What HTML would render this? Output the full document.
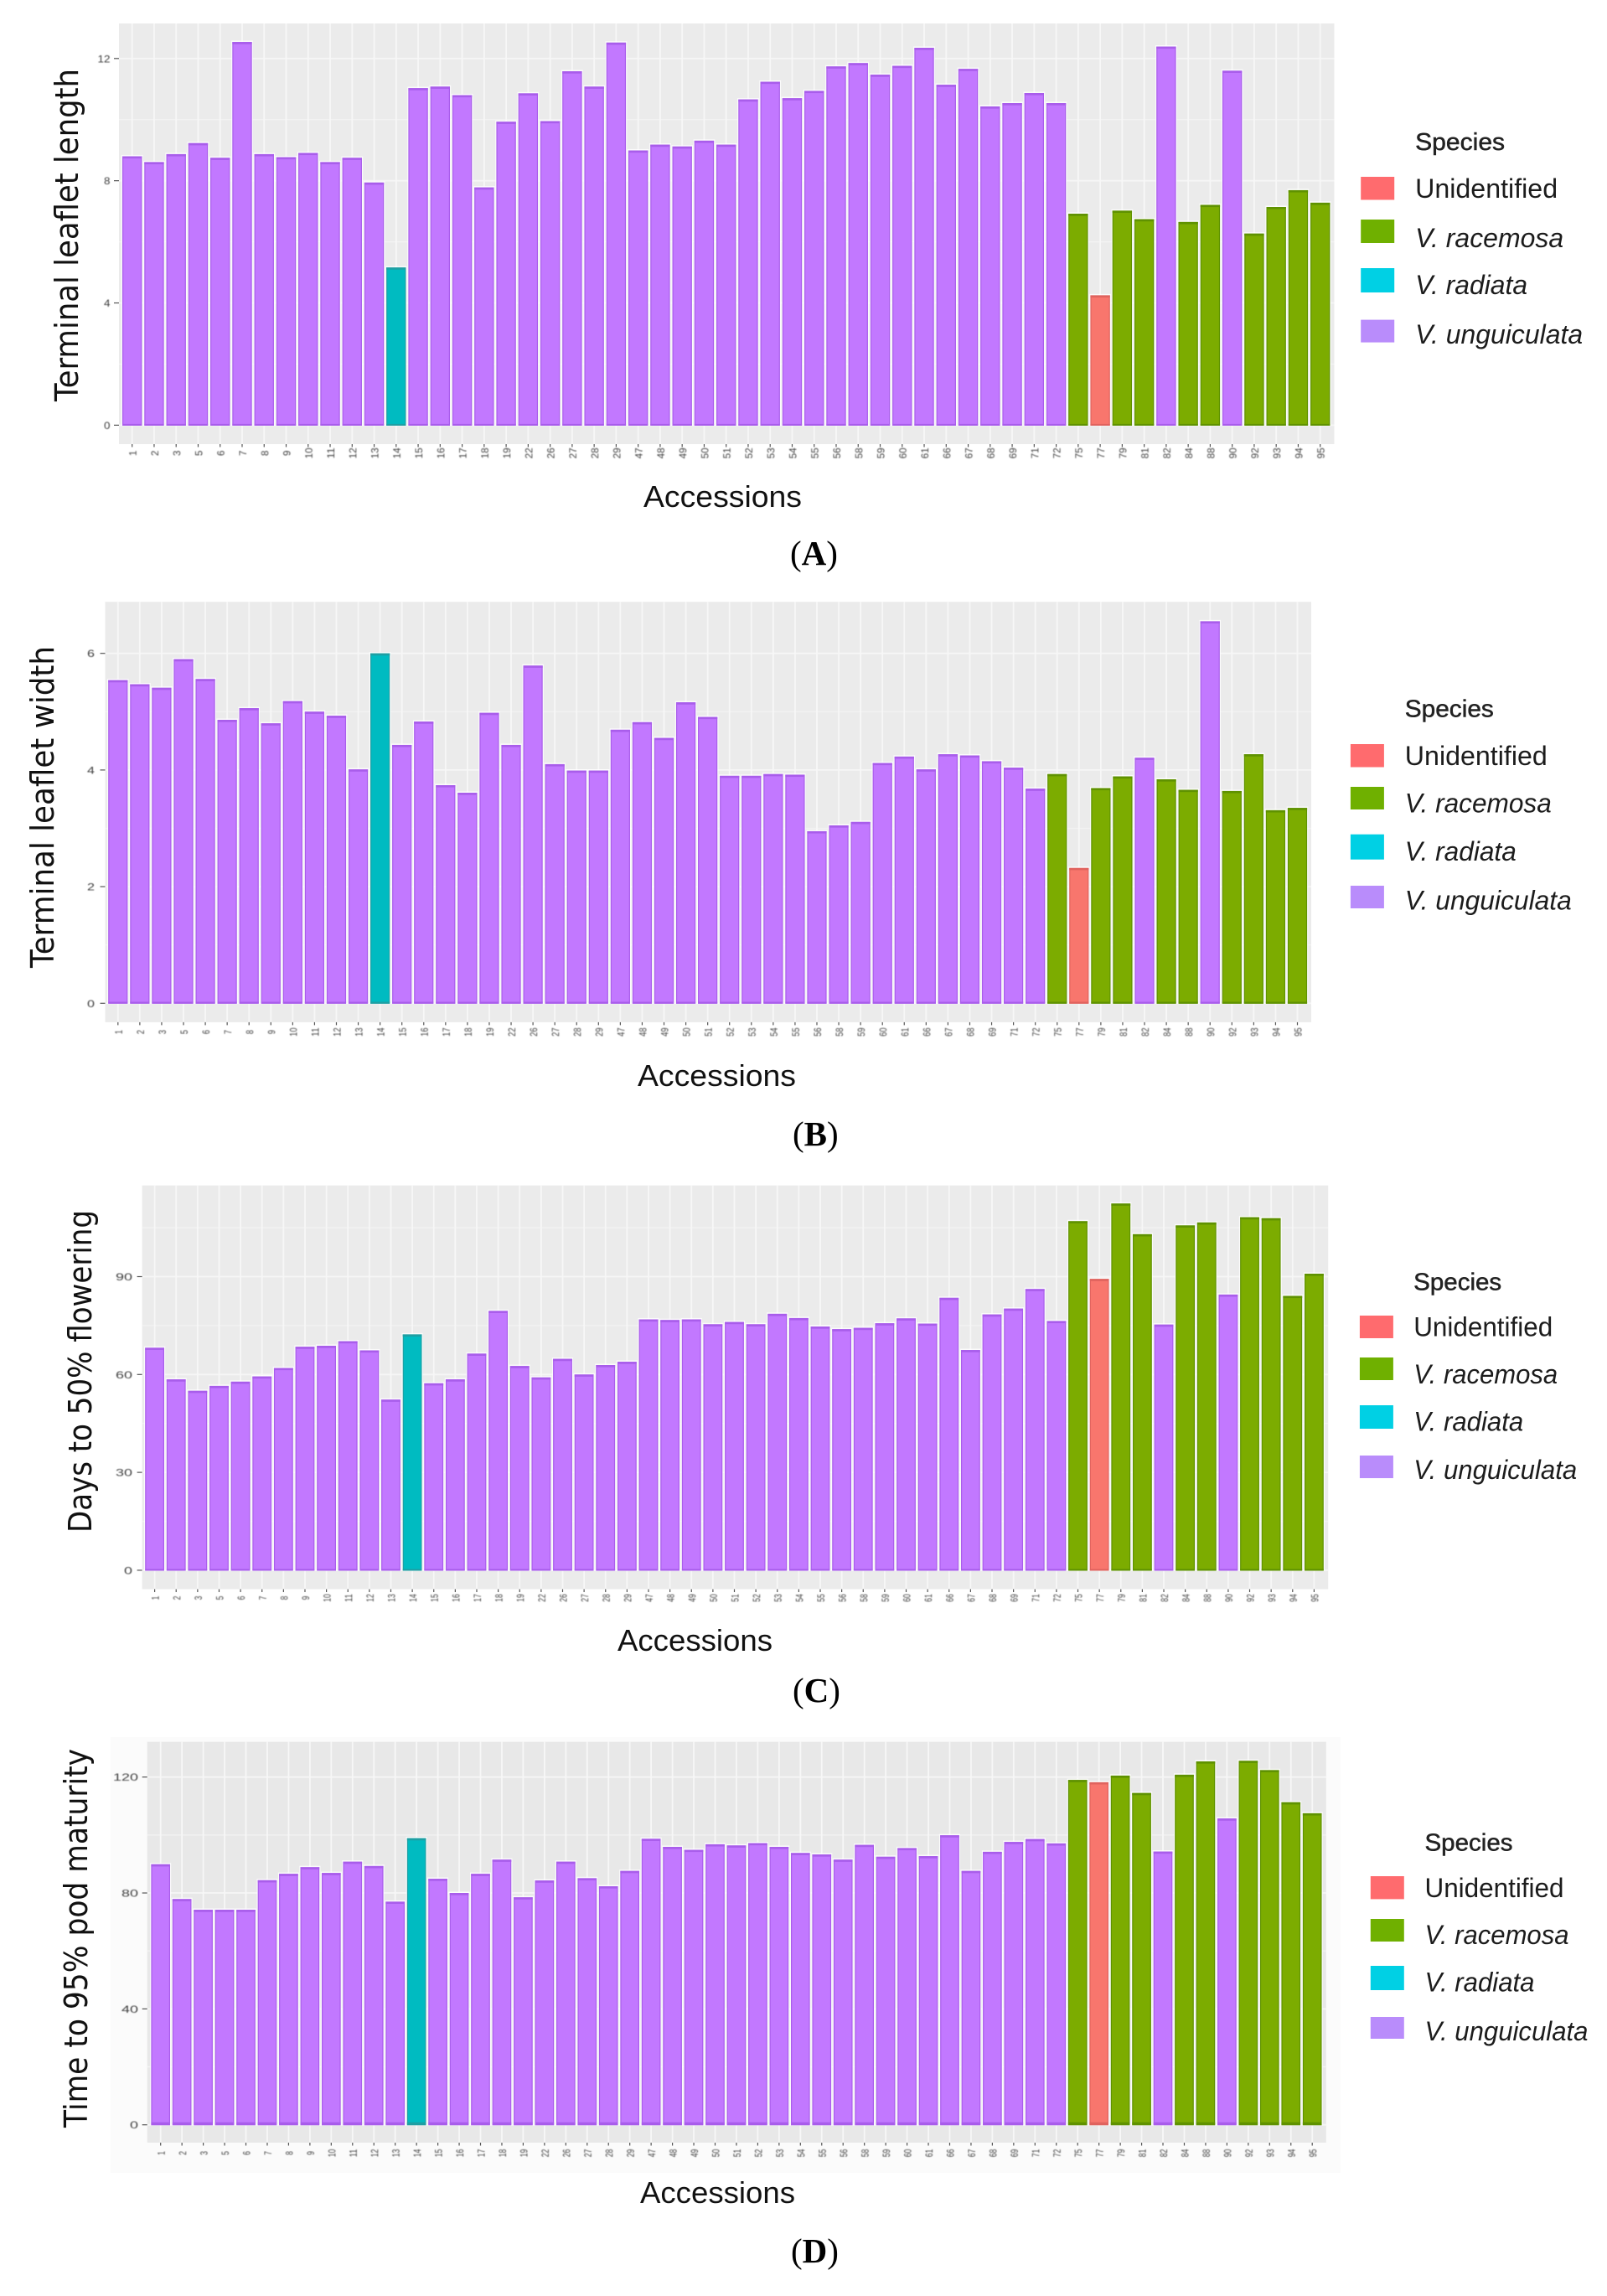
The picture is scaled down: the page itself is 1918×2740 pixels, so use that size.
<!DOCTYPE html>
<html lang="en">
<head>
<meta charset="utf-8">
<title>Accession bar charts</title>
<style>
html,body{margin:0;padding:0;background:#fff;}
svg{display:block;}
.yt{font-family:"DejaVu Sans",sans-serif;font-size:38px;fill:#111;}
.xt{font-family:"Liberation Sans",sans-serif;font-size:36px;fill:#111;}
.cap{font-family:"Liberation Serif",serif;font-size:41px;fill:#000;}
.lt{font-family:"Liberation Sans",sans-serif;font-size:29px;fill:#222;stroke:#222;stroke-width:.5px;}
.li{font-family:"Liberation Sans",sans-serif;font-size:32px;fill:#1c1c1c;}
.it{font-style:italic;}
.tick{font-family:"Liberation Sans",sans-serif;fill:#404040;}
.soft{filter:blur(.4px);}
</style>
</head>
<body>
<svg id="figure" xmlns="http://www.w3.org/2000/svg" width="1918" height="2740" viewBox="0 0 1918 2740">
<rect width="1918" height="2740" fill="#fff"/>
<rect x="132" y="2073" width="1468" height="520" fill="#fbfbfb"/>

<g id="chart-a"></g>
<g id="chart-b"></g>
<g id="chart-c"></g>
<g id="chart-d"></g>

<!-- Y axis titles -->
<text class="yt" transform="translate(93,479) rotate(-90)" textLength="397" lengthAdjust="spacingAndGlyphs">Terminal leaflet length</text>
<text class="yt" transform="translate(64,1155) rotate(-90)" textLength="384" lengthAdjust="spacingAndGlyphs">Terminal leaflet width</text>
<text class="yt" transform="translate(109,1829) rotate(-90)" textLength="385" lengthAdjust="spacingAndGlyphs">Days to 50% flowering</text>
<text class="yt" transform="translate(104,2539) rotate(-90)" textLength="452" lengthAdjust="spacingAndGlyphs">Time to 95% pod maturity</text>

<!-- X axis titles -->
<text class="xt" x="768" y="605" textLength="189" lengthAdjust="spacingAndGlyphs">Accessions</text>
<text class="xt" x="761" y="1296" textLength="189" lengthAdjust="spacingAndGlyphs">Accessions</text>
<text class="xt" x="737" y="1970" textLength="185" lengthAdjust="spacingAndGlyphs">Accessions</text>
<text class="xt" x="764" y="2629" textLength="185" lengthAdjust="spacingAndGlyphs">Accessions</text>

<!-- Captions -->
<text class="cap" x="943" y="674">(<tspan font-weight="bold">A</tspan>)</text>
<text class="cap" x="946" y="1367">(<tspan font-weight="bold">B</tspan>)</text>
<text class="cap" x="946" y="2031">(<tspan font-weight="bold">C</tspan>)</text>
<text class="cap" x="944" y="2700">(<tspan font-weight="bold">D</tspan>)</text>

<!-- Legend A -->
<g transform="translate(-1.5,0)">
<text class="lt" x="1690.6" y="179" textLength="107" lengthAdjust="spacingAndGlyphs">Species</text>
<rect x="1625.7" y="211" width="40" height="27.5" fill="#FF6B6E"/>
<text class="li" x="1690.6" y="236" textLength="170" lengthAdjust="spacingAndGlyphs">Unidentified</text>
<rect x="1625.7" y="262" width="40" height="28" fill="#6FB000"/>
<text class="li it" x="1690.6" y="295" textLength="177" lengthAdjust="spacingAndGlyphs">V. racemosa</text>
<rect x="1625.7" y="320" width="40" height="29" fill="#00D0E4"/>
<text class="li it" x="1690.6" y="351" textLength="134" lengthAdjust="spacingAndGlyphs">V. radiata</text>
<rect x="1625.7" y="381.6" width="40" height="27" fill="#B98CFB"/>
<text class="li it" x="1690.6" y="410" textLength="200" lengthAdjust="spacingAndGlyphs">V. unguiculata</text>
</g>

<!-- Legend B -->
<g transform="translate(-1.5,0)">
<text class="lt" x="1678.3" y="855.6" textLength="106" lengthAdjust="spacingAndGlyphs">Species</text>
<rect x="1613.4" y="888" width="40" height="27.5" fill="#FF6B6E"/>
<text class="li" x="1678.3" y="913" textLength="170" lengthAdjust="spacingAndGlyphs">Unidentified</text>
<rect x="1613.4" y="939" width="40" height="27" fill="#6FB000"/>
<text class="li it" x="1678.3" y="969.7" textLength="175" lengthAdjust="spacingAndGlyphs">V. racemosa</text>
<rect x="1613.4" y="995.7" width="40" height="30" fill="#00D0E4"/>
<text class="li it" x="1678.3" y="1027" textLength="133" lengthAdjust="spacingAndGlyphs">V. radiata</text>
<rect x="1613.4" y="1057" width="40" height="27" fill="#B98CFB"/>
<text class="li it" x="1678.3" y="1085.5" textLength="199" lengthAdjust="spacingAndGlyphs">V. unguiculata</text>
</g>

<!-- Legend C -->
<g transform="translate(-1.5,0)">
<text class="lt" x="1688.7" y="1539.6" textLength="105" lengthAdjust="spacingAndGlyphs">Species</text>
<rect x="1624.4" y="1570" width="40" height="27" fill="#FF6B6E"/>
<text class="li" x="1688.7" y="1594.7" textLength="166" lengthAdjust="spacingAndGlyphs">Unidentified</text>
<rect x="1624.4" y="1620" width="40" height="27" fill="#6FB000"/>
<text class="li it" x="1688.7" y="1651" textLength="172" lengthAdjust="spacingAndGlyphs">V. racemosa</text>
<rect x="1624.4" y="1677" width="40" height="28" fill="#00D0E4"/>
<text class="li it" x="1688.7" y="1707.4" textLength="131" lengthAdjust="spacingAndGlyphs">V. radiata</text>
<rect x="1624.4" y="1737" width="40" height="27" fill="#B98CFB"/>
<text class="li it" x="1688.7" y="1765" textLength="195" lengthAdjust="spacingAndGlyphs">V. unguiculata</text>
</g>

<!-- Legend D -->
<g transform="translate(-1.5,0)">
<text class="lt" x="1702" y="2208.7" textLength="105" lengthAdjust="spacingAndGlyphs">Species</text>
<rect x="1637.3" y="2239" width="40" height="27.4" fill="#FF6B6E"/>
<text class="li" x="1702" y="2263.8" textLength="166" lengthAdjust="spacingAndGlyphs">Unidentified</text>
<rect x="1637.3" y="2290" width="40" height="27" fill="#6FB000"/>
<text class="li it" x="1702" y="2320" textLength="172" lengthAdjust="spacingAndGlyphs">V. racemosa</text>
<rect x="1637.3" y="2346" width="40" height="29" fill="#00D0E4"/>
<text class="li it" x="1702" y="2376.6" textLength="131" lengthAdjust="spacingAndGlyphs">V. radiata</text>
<rect x="1637.3" y="2407" width="40" height="26" fill="#B98CFB"/>
<text class="li it" x="1702" y="2435" textLength="195" lengthAdjust="spacingAndGlyphs">V. unguiculata</text>
</g>
</svg>

<script>
var categories = ["1","2","3","5","6","7","8","9","10","11","12","13","14","15","16","17","18","19","22","26","27","28","29","47","48","49","50","51","52","53","54","55","56","58","59","60","61","66","67","68","69","71","72","75","77","79","81","82","84","88","90","92","93","94","95"];

var speciesCodes = ["U","U","U","U","U","U","U","U","U","U","U","U","T","U","U","U","U","U","U","U","U","U","U","U","U","U","U","U","U","U","U","U","U","U","U","U","U","U","U","U","U","U","U","G","R","G","G","U","G","G","U","G","G","G","G"];

var leafletLength = [8.80,8.61,8.87,9.23,8.75,12.54,8.87,8.77,8.91,8.61,8.75,7.94,5.16,11.03,11.08,10.80,7.78,9.93,10.86,9.95,11.58,11.08,12.52,8.99,9.18,9.12,9.31,9.18,10.66,11.24,10.70,10.94,11.74,11.85,11.47,11.76,12.35,11.14,11.66,10.43,10.54,10.87,10.54,6.92,4.25,7.02,6.74,12.39,6.65,7.21,11.60,6.27,7.14,7.69,7.28];

var leafletWidth = [5.54,5.47,5.41,5.90,5.56,4.86,5.06,4.80,5.18,5.00,4.93,4.01,6.00,4.43,4.83,3.74,3.61,4.98,4.43,5.79,4.10,3.99,3.99,4.69,4.82,4.55,5.16,4.91,3.90,3.90,3.93,3.92,2.95,3.05,3.11,4.12,4.23,4.01,4.27,4.25,4.15,4.04,3.68,3.93,2.32,3.69,3.89,4.21,3.84,3.66,6.55,3.64,4.27,3.31,3.35];

var daysToFlowering = [68.2,58.5,55.0,56.5,57.8,59.4,62.0,68.5,68.8,70.2,67.4,52.3,72.3,57.3,58.5,66.4,79.5,62.6,59.1,64.8,60.0,62.9,63.9,76.9,76.7,76.9,75.4,76.1,75.4,78.6,77.3,74.7,73.9,74.3,75.7,77.2,75.6,83.5,67.5,78.4,80.2,86.2,76.4,107.0,89.3,112.4,103.0,75.3,105.7,106.6,84.5,108.2,107.9,84.1,90.9];

var timeToMaturity = [89.9,77.9,74.2,74.2,74.2,84.4,86.6,88.9,86.9,90.8,89.3,77.0,98.9,84.9,80.0,86.6,91.5,78.5,84.3,90.8,85.1,82.3,87.6,98.7,95.9,94.9,96.8,96.4,97.2,95.9,93.8,93.3,91.5,96.6,92.5,95.5,92.7,99.9,87.6,94.2,97.6,98.6,97.1,119.0,118.2,120.5,114.5,94.3,120.8,125.4,105.7,125.6,122.4,111.3,107.5];

var ticksLength = [0,4,8,12];
var ticksWidth = [0,2,4,6];
var ticksFlowering = [0,30,60,90];
var ticksMaturity = [0,40,80,120];

var NS = 'http://www.w3.org/2000/svg';

var speciesFill = {U:'#C278FF',G:'#7CAC00',T:'#00BBC1',R:'#F8766D'};
var speciesEdge = {U:'#A95DEB',G:'#5F9200',T:'#1E9FA3',R:'#E0635E'};

function make(tag, attrs, parent) {
  var el = document.createElementNS(NS, tag);
  for (var k in attrs) { el.setAttribute(k, attrs[k]); }
  parent.appendChild(el);
  return el;
}

function drawChart(cfg) {
  var root = document.getElementById(cfg.id);
  var step = (cfg.lastX - cfg.firstX) / (categories.length - 1);
  var unit = (cfg.zeroY - cfg.refY) / cfg.refValue;
  var xScale = function (i) { return cfg.firstX + i * step; };
  var yScale = function (v) { return cfg.zeroY - v * unit; };

  var bg = make('rect', {x: cfg.left, y: cfg.top, width: cfg.right - cfg.left, height: cfg.bottom - cfg.top, fill: cfg.panel}, root);
  
  

  var grid = make('g', {}, root);
  
  

  var tickGap = cfg.ticks[1] - cfg.ticks[0];
  var minorV = tickGap / 2;
  while (yScale(minorV) > cfg.top) {
    var minor = make('line', {x1: cfg.left, x2: cfg.right, y1: yScale(minorV), y2: yScale(minorV), stroke: '#f3f3f3', 'stroke-width': 1.2}, grid);
    
    
    minorV += tickGap;
  }

  cfg.ticks.forEach(function (t) {
    var g = make('line', {x1: cfg.left, x2: cfg.right, y1: yScale(t), y2: yScale(t), stroke: '#f6f6f6', 'stroke-width': 1.8}, grid);
    
    
    var tm = make('line', {x1: cfg.left - 6, x2: cfg.left, y1: yScale(t), y2: yScale(t), stroke: '#555', 'stroke-width': 1.2}, root);
    
    
    var label = make('text', {x: cfg.left - cfg.yLabelGap, y: yScale(t) + 4.5, 'text-anchor': 'end', 'font-size': 12, 'class': 'tick soft', textLength: String(t).length * cfg.yDigit, lengthAdjust: 'spacingAndGlyphs'}, root);
    label.textContent = t;
    
    
  });

  categories.forEach(function (c, i) {
    var cx = xScale(i);
    var v = make('line', {x1: cx, x2: cx, y1: cfg.top, y2: cfg.bottom, stroke: '#f7f7f7', 'stroke-width': 1.8}, grid);
    
    
    var tm = make('line', {x1: cx, x2: cx, y1: cfg.bottom, y2: cfg.bottom + 3.5, stroke: '#555', 'stroke-width': 1.2}, root);
    
    
    var label = make('text', {transform: 'translate(' + (cx + 5) + ',' + cfg.xLabelY + ') rotate(-90)', 'text-anchor': 'middle', 'font-size': 12, 'class': 'tick soft', textLength: c.length * cfg.xDigit, lengthAdjust: 'spacingAndGlyphs'}, root);
    label.textContent = c;
    
    
  });

  var bars = make('g', {}, root);
  
  
  var barW = step * 0.89;
  cfg.values.forEach(function (val, i) {
    var code = speciesCodes[i];
    var bx = xScale(i) - barW / 2;
    var by = yScale(val);
    var h = yScale(0) - by;
    var halo = make('rect', {x: bx - 1.2, y: by - 1.6, width: barW + 2.4, height: h + 2.4, fill: '#fff', 'fill-opacity': 0.8}, bars);
    
    
    var bar = make('rect', {x: bx + 0.6, y: by + 0.6, width: barW - 1.2, height: h - 0.6, fill: speciesFill[code], stroke: speciesEdge[code], 'stroke-width': 1.2}, bars);
    
    
    var cap = make('rect', {x: bx, y: by, width: barW, height: 2.6, fill: speciesEdge[code]}, bars);
    
    
    var foot = make('rect', {x: bx, y: yScale(0) - cfg.footH, width: barW, height: cfg.footH, fill: speciesEdge[code]}, bars);
    
    
  });
}

drawChart({id:'chart-a', values:leafletLength, ticks:ticksLength, left:142, right:1592.5, top:28, bottom:530, firstX:157.7, lastX:1575.7, zeroY:507.4, refY:69.8, refValue:12, panel:'#EBEBEB', yLabelGap:10.5, yDigit:7.5, xLabelY:540.8, xDigit:6.5, footH:1.5});
drawChart({id:'chart-b', values:leafletWidth, ticks:ticksWidth, left:125.5, right:1565, top:718.2, bottom:1219.9, firstX:140.8, lastX:1548.5, zeroY:1197.3, refY:779.7, refValue:6, panel:'#EBEBEB', yLabelGap:12.5, yDigit:9, xLabelY:1231.6, xDigit:5.2, footH:1.8});
drawChart({id:'chart-c', values:daysToFlowering, ticks:ticksFlowering, left:169.6, right:1585.2, top:1414.7, bottom:1896.5, firstX:184.6, lastX:1568.4, zeroY:1873.9, refY:1523.5, refValue:90, panel:'#EBEBEB', yLabelGap:11.6, yDigit:10, xLabelY:1907, xDigit:4.8, footH:1.5});
drawChart({id:'chart-d', values:timeToMaturity, ticks:ticksMaturity, left:175.7, right:1582.8, top:2078.6, bottom:2557, firstX:191.7, lastX:1566.2, zeroY:2535.7, refY:2120.7, refValue:120, panel:'#E8E8E8', yLabelGap:10.7, yDigit:10, xLabelY:2569.5, xDigit:4.8, footH:3});
</script>
</body>
</html>
